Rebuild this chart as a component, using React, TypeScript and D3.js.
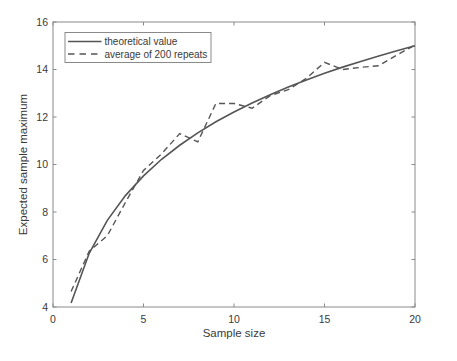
import React from "react";
import * as d3 from "d3";

const sampleSizes = [1, 2, 3, 4, 5, 6, 7, 8, 9, 10, 11, 12, 13, 14, 15, 16, 17, 18, 19, 20];
const theoretical = [4.17, 6.26, 7.65, 8.69, 9.52, 10.22, 10.81, 11.33, 11.8, 12.21, 12.59, 12.94, 13.26, 13.56, 13.84, 14.1, 14.34, 14.57, 14.79, 15.0];
const average200 = [4.65, 6.35, 7.0, 8.4, 9.75, 10.45, 11.3, 10.95, 12.57, 12.57, 12.37, 12.9, 13.15, 13.63, 14.3, 14.0, 14.09, 14.16, 14.61, 15.03];
const xTicks = [0, 5, 10, 15, 20];
const yTicks = [4, 6, 8, 10, 12, 14, 16];
const legendLabels = ["theoretical value", "average of 200 repeats"];

export default function App() {
  const W = 457, H = 361;
  const left = 53, right = 415, top = 22, bottom = 307;
  const x = d3.scaleLinear().domain([0, 20]).range([left, right]);
  const y = d3.scaleLinear().domain([4, 16]).range([bottom, top]);
  const line = d3.line<number>().x((_, i) => x(sampleSizes[i])).y((d) => y(d));
  const axisColor = "#8a8a8a";
  const textColor = "#3a3a3a";
  const lineColor = "#555555";
  const font = "'Liberation Sans', Arial, sans-serif";
  return (
    <svg width={W} height={H} style={{ position: "absolute", left: 0, top: 0, background: "#fff" }} fontFamily={font}>
      <rect x={0} y={0} width={W} height={H} fill="#fff" />
      {/* box */}
      <rect x={left} y={top} width={right - left} height={bottom - top} fill="none" stroke={axisColor} strokeWidth={1} />
      {xTicks.map((t) => (
        <g key={"x" + t}>
          <line x1={x(t)} x2={x(t)} y1={bottom} y2={bottom - 3.5} stroke={axisColor} />
          <line x1={x(t)} x2={x(t)} y1={top} y2={top + 3.5} stroke={axisColor} />
          <text x={x(t)} y={bottom + 16} textAnchor="middle" fontSize={10.5} fill={textColor}>{t}</text>
        </g>
      ))}
      {yTicks.map((t) => (
        <g key={"y" + t}>
          <line x1={left} x2={left + 3.5} y1={y(t)} y2={y(t)} stroke={axisColor} />
          <line x1={right} x2={right - 3.5} y1={y(t)} y2={y(t)} stroke={axisColor} />
          <text x={left - 5} y={y(t) + 3.8} textAnchor="end" fontSize={10.5} fill={textColor}>{t}</text>
        </g>
      ))}
      <text x={(left + right) / 2} y={337} textAnchor="middle" fontSize={11.5} fill={textColor}>Sample size</text>
      <text transform={`translate(27,${(top + bottom) / 2}) rotate(-90)`} textAnchor="middle" fontSize={11.5} fill={textColor}>Expected sample maximum</text>
      <path d={line(theoretical) || ""} fill="none" stroke={lineColor} strokeWidth={1.6} />
      <path d={line(average200) || ""} fill="none" stroke={lineColor} strokeWidth={1.4} strokeDasharray="6,4" />
      {/* legend */}
      <rect x={65} y={32.5} width={146} height={30} fill="#fff" stroke={axisColor} strokeWidth={1} />
      <line x1={68} x2={101.5} y1={41.5} y2={41.5} stroke={lineColor} strokeWidth={1.6} />
      <line x1={68} x2={101.5} y1={54} y2={54} stroke={lineColor} strokeWidth={1.4} strokeDasharray="6.5,5" />
      <text x={104.5} y={45} fontSize={10} fill={textColor}>{legendLabels[0]}</text>
      <text x={104.5} y={57.5} fontSize={10} fill={textColor}>{legendLabels[1]}</text>
    </svg>
  );
}
